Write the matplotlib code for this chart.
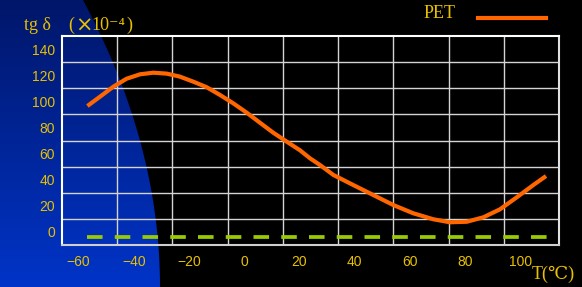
import numpy as np
import matplotlib
matplotlib.use("Agg")
import matplotlib.pyplot as plt
from matplotlib.path import Path
from matplotlib.patches import PathPatch

# ---- data ----
temp = [-56.8, -52.2, -47.4, -42.6, -37.7, -32.9, -28.1, -23.3, -18.4, -13.6, -8.8,
        -4.0, 0.9, 5.7, 10.5, 15.4, 20.2, 23.8, 27.4, 32.3, 39.5, 46.7, 54.0, 61.2,
        68.5, 74.5, 80.6, 86.6, 92.6, 98.7, 104.7, 109.3]
pet = [96.4, 103.6, 111.2, 117.3, 120.7, 121.9, 121.2, 118.9, 115.0, 110.8, 104.9,
       98.5, 91.3, 83.6, 76.0, 69.1, 62.5, 56.4, 51.3, 43.6, 35.9, 28.3, 20.6, 14.3,
       9.7, 7.4, 7.8, 11.2, 17.3, 26.5, 35.9, 42.8]
base_x = [-57.0, 109.8]
base_y = [-4.0, -4.0]
x_ticks = [-60, -40, -20, 0, 20, 40, 60, 80, 100]
y_ticks = [0, 20, 40, 60, 80, 100, 120, 140]

YELLOW = '#e8c000'
ORANGE = '#ff6600'
GREEN = '#99cc00'

W, H = 582, 287
fig = plt.figure(figsize=(W / 100, H / 100), dpi=100, facecolor='black')

# background decoration (blue curved shape)
bg = fig.add_axes([0, 0, 1, 1], zorder=0)
bg.set_xlim(0, W)
bg.set_ylim(H, 0)
bg.axis('off')
ys = np.linspace(0, H, 80)
xs = 83 + 77 * (1 - (1 - ys / H) ** 2)
verts = [(0, 0)] + list(zip(xs, ys)) + [(0, H), (0, 0)]
patch = PathPatch(Path(verts), facecolor='none', edgecolor='none')
bg.add_patch(patch)
grad = np.linspace(0, 1, 256)[:, None]
top = np.array([0, 22, 105]) / 255
bot = np.array([0, 52, 200]) / 255
img = top[None, None, :] * (1 - grad[:, :, None]) + bot[None, None, :] * grad[:, :, None]
img = np.repeat(img, 2, axis=1)
im = bg.imshow(img, extent=[0, 170, H, 0], aspect='auto', zorder=1)
im.set_clip_path(patch)

# main axes
ax = fig.add_axes([62 / W, 1 - 245 / H, (559 - 62) / W, (245 - 36) / H], zorder=2)
ax.set_facecolor('none')
ax.set_xlim(-66, 114)
ax.set_ylim(-10, 150)

ax.plot(temp, pet, color=ORANGE, lw=3.0, solid_capstyle='butt',
        solid_joinstyle='round', zorder=4)
ax.plot(base_x, base_y, color=GREEN, lw=2.7, dashes=(4.15, 3.25), zorder=4)

ax.set_xticks(x_ticks)
ax.set_yticks(y_ticks)
ax.set_xticks(np.arange(-46, 114, 20), minor=True)
ax.set_yticks(np.arange(10, 150, 20), minor=True)
ax.grid(True, which='minor', color='#d4d4d4', lw=1.0, zorder=1)
ax.grid(False, which='major')
ax.tick_params(which='both', length=0)
ax.tick_params(axis='x', colors=YELLOW, labelsize=10, pad=7)
ax.tick_params(axis='y', colors=YELLOW, labelsize=10, pad=5)
for lab in ax.get_xticklabels() + ax.get_yticklabels():
    lab.set_fontfamily('Liberation Sans')
for s in ax.spines.values():
    s.set_color('white')
    s.set_linewidth(1.5)
ax.spines['bottom'].set_color('#cfcfcf')
ax.spines['right'].set_color('#e0e0e0')

serif = ['Liberation Serif', 'DejaVu Serif', 'Noto Sans CJK SC']


def ftext(x, y, s, **kw):
    kw.setdefault('color', YELLOW)
    kw.setdefault('fontsize', 13)
    kw.setdefault('family', serif)
    kw.setdefault('va', 'center')
    kw.setdefault('ha', 'left')
    fig.text(x / W, 1 - y / H, s, **kw)


# y-axis title: tg δ (×10⁻⁴)
ftext(24, 25, 'tg δ')
ftext(68, 25, '(')
ftext(83.5, 26, '×', ha='center', fontsize=15, family=['DejaVu Sans'])
ftext(91, 25, '10⁻⁴')
ftext(126, 25, ')')

# legend
ftext(424, 14, 'PET')
fig.add_artist(plt.Line2D([478 / W, 546 / W], [1 - 18 / H, 1 - 18 / H],
                          color=ORANGE, lw=3.0, transform=fig.transFigure))

# x-axis title
ftext(532, 274, 'T(℃)')

fig.savefig('out.png', dpi=100, facecolor='black')
